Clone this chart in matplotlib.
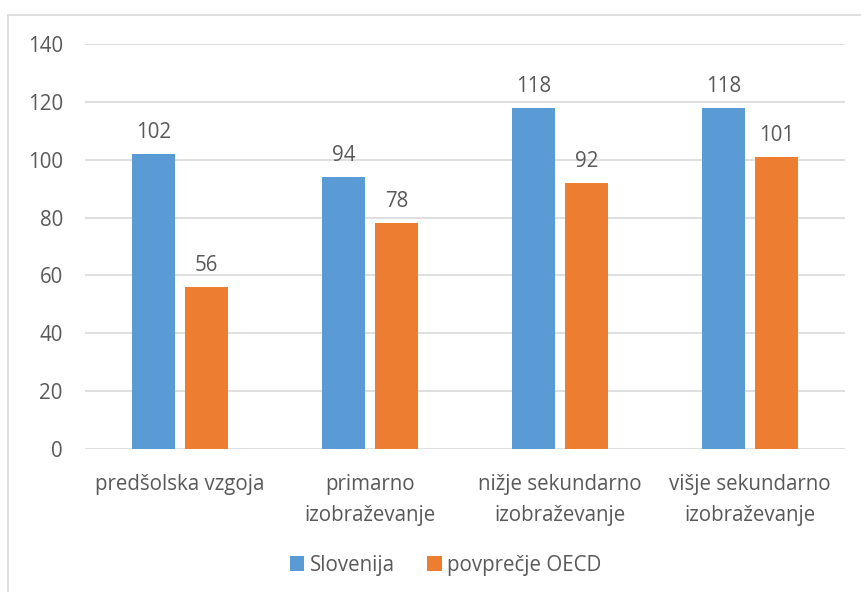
import numpy as np
import matplotlib
matplotlib.use("Agg")
from matplotlib import pyplot as plt
from matplotlib.lines import Line2D

categories = ["predšolska vzgoja", "primarno\nizobraževanje",
              "nižje sekundarno\nizobraževanje", "višje sekundarno\nizobraževanje"]
slovenija = [102, 94, 118, 118]
oecd = [56, 78, 92, 101]
series_names = ["Slovenija", "povprečje OECD"]
yticks = [0, 20, 40, 60, 80, 100, 120, 140]

blue = "#5B9BD5"
orange = "#ED7D31"
text_col = "#595959"
fs = 14.8

plt.rcParams["font.family"] = ["Open Sans", "DejaVu Sans"]

fig = plt.figure(figsize=(8.62, 5.92), dpi=100)
ax = fig.add_axes([0.0986, 0.2416, 0.8814, 0.6841])

x = np.arange(len(categories))
w = 0.225
off = 0.14
b1 = ax.bar(x - off, slovenija, w, color=blue, label=series_names[0])
b2 = ax.bar(x + off, oecd, w, color=orange, label=series_names[1])

for bars in (b1, b2):
    for b in bars:
        ax.annotate(str(int(b.get_height())), (b.get_x() + b.get_width() / 2, b.get_height()),
                    xytext=(0, 8), textcoords="offset points", ha="center", va="bottom",
                    fontsize=fs, color=text_col)

ax.set_xlim(-0.5, len(categories) - 0.5)
ax.set_ylim(0, 140)
ax.set_yticks(yticks)
ax.set_xticks(x)
ax.set_xticklabels(categories, linespacing=1.65)
ax.tick_params(axis="both", length=0, labelsize=fs, labelcolor=text_col)
ax.tick_params(axis="x", pad=18)
ax.tick_params(axis="y", pad=16)
ax.grid(axis="y", color="#D9D9D9", linewidth=1.2)
ax.set_axisbelow(True)
for s in ax.spines.values():
    s.set_visible(False)

leg = fig.legend(handles=[b1, b2], loc="center", bbox_to_anchor=(0.517, 0.045), ncol=2,
                 frameon=False, fontsize=fs, handlelength=0.7, handleheight=0.7,
                 handletextpad=0.25, columnspacing=1.6)
for t in leg.get_texts():
    t.set_color(text_col)

# chart area border (partially cropped in original)
fig.add_artist(Line2D([8 / 862, 8 / 862], [0, 1 - 15 / 592], transform=fig.transFigure,
                      color="#D9D9D9", linewidth=1.2))
fig.add_artist(Line2D([8 / 862, 1], [1 - 15 / 592, 1 - 15 / 592], transform=fig.transFigure,
                      color="#D9D9D9", linewidth=1.2))

fig.savefig("out.png", dpi=100)
